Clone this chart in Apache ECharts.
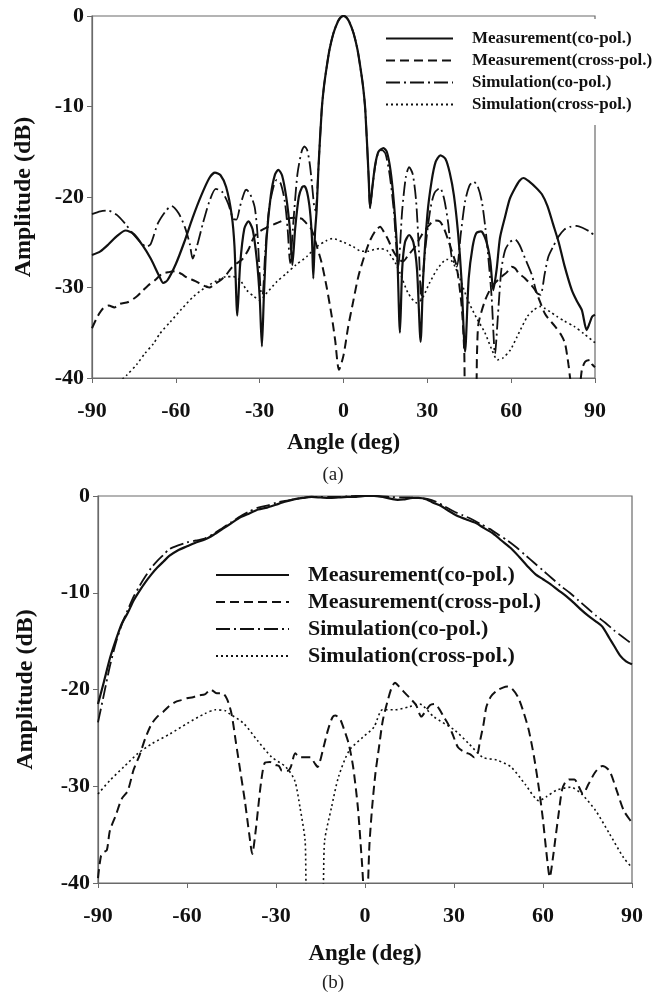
<!DOCTYPE html>
<html>
<head>
<meta charset="utf-8">
<script src="https://cdn.jsdelivr.net/npm/echarts@6/dist/echarts.min.js"></script>
<style>
html,body{margin:0;padding:0;background:#fff;}
#c{width:666px;height:992px;}
</style>
</head>
<body>
<div id="c"></div>
<script>
// ---------- Series names ----------
var seriesNames = ['Measurement(co-pol.)','Measurement(cross-pol.)','Simulation(co-pol.)','Simulation(cross-pol.)'];
var xTicks = [-90,-60,-30,0,30,60,90];
var yTicks = [0,-10,-20,-30,-40];

// ---------- Panel (a) ----------
var aMeasCoX = [-90,-87,-84,-81,-78,-75,-72,-69,-66,-64.5,-63,-60,-57,-54,-51,-48,-46,-44,-42,-40,-39,-38,-37,-35.5,-34,-32.5,-31,-30,-29.2,-28.5,-27.5,-26,-24.5,-23.3,-22,-20.5,-19.2,-18.3,-17.3,-16,-14.8,-14,-13,-12,-11.3,-10.8,-10.2,-9.6,-9,-7.8,-7,-6,-5,-3.6,-2,-1,0,1,2,3.6,5,6,7,7.8,9,9.5,10.3,11.3,12.5,14.3,15.5,16.8,18,19.2,20.2,21,22,23.5,25,26.3,27.6,28.5,30,31.5,33,34.7,36.5,38,39.5,41,42.2,43.5,44.8,46.2,47.5,49.2,51,52.5,53.6,54.8,56,57.8,59.5,61.4,63,64.4,66.5,69,71,73,75,77,79,81.7,83.5,85.3,87,88,89,90];
var aMeasCoY = [-26.4,-26.0,-25.2,-24.3,-23.7,-24.1,-25.3,-26.8,-28.7,-29.5,-29.2,-27.4,-25.0,-22.3,-19.9,-17.9,-17.3,-17.6,-18.9,-22.0,-25.5,-33.1,-27.5,-23.5,-22.7,-23.6,-27,-31,-36.5,-31,-24.5,-19.8,-17.5,-17.0,-17.6,-20,-23.5,-27.5,-23.5,-20,-18.9,-18.8,-19.5,-21.5,-24.5,-29,-24,-21.4,-17,-10.4,-7.8,-5.6,-3.7,-1.9,-0.6,-0.15,0,-0.15,-0.6,-1.9,-3.7,-5.6,-7.8,-10.4,-17.8,-21.2,-19,-16.5,-15,-14.6,-15,-17,-20.5,-26,-35,-28,-25,-24.2,-25,-28,-36,-29,-22,-18.3,-16.1,-15.4,-15.8,-17.3,-19.8,-24,-29,-37.1,-29,-25.5,-24,-23.8,-24.8,-27,-30.3,-28,-24.5,-22.2,-20.2,-19.0,-18.2,-17.9,-18.3,-19,-19.7,-21,-23,-25,-27.5,-30.3,-31.5,-32.5,-34.7,-34,-33.2,-33];

var aMeasCrossX = [-90,-88,-86,-84,-82,-80,-77,-74,-72,-70,-67.5,-65,-62.5,-60,-58,-56,-53,-50,-48,-46,-44,-42,-40,-38,-36,-34,-32,-30,-27,-24,-20,-17,-15,-13,-11.4,-9.5,-7.8,-6,-4.2,-3,-1.6,0,1.7,3.5,5.3,7.5,9.5,11.5,13.1,14.5,16.1,17.5,19.1,20.3,21.4,23,25.6,28,30.4,32.5,34.5,36,37.5,39,40.5,42.3,43.2,43.8,47,47.8,48.3,50.7,53.1,56.6,58.5,60.2,61.5,62.6,65,68.6,72.1,75.7,78,79.3,80.5,81.7,84,85.3,86.5,88.2,89,90];
var aMeasCrossY = [-34.5,-33.2,-32.3,-32.0,-32.2,-31.8,-31.6,-31.0,-30.4,-29.8,-29.2,-28.5,-28.3,-28.2,-28.5,-28.9,-29.3,-29.8,-30.0,-29.6,-29.2,-28.6,-27.8,-27.3,-26.8,-25.8,-24.4,-23.8,-23.3,-22.9,-22.4,-22.3,-22.4,-23.0,-23.6,-25.5,-27.3,-30,-33.2,-35.8,-39.1,-37.5,-34.3,-31.5,-28.8,-26.5,-24.8,-23.7,-23.3,-23.9,-24.8,-25.8,-26.6,-27.0,-27.1,-26.5,-25.5,-24.2,-23.2,-22.6,-22.7,-23.5,-24.8,-26.2,-27.7,-32.1,-37,-43,-43,-37,-34,-31.4,-29.9,-28.8,-28.3,-27.7,-27.9,-28.4,-29.0,-30.3,-32.9,-34.3,-35.3,-36.2,-38.5,-41,-42,-39.1,-38.2,-38,-38.5,-38.8];

var aSimCoX = [-90,-87,-84.3,-81,-78,-75,-72,-70.5,-69,-66.4,-63.5,-61.5,-59,-56.8,-55,-54,-52.5,-50.3,-48,-45.7,-43.5,-41.3,-39.5,-38.3,-37,-35.5,-34.8,-33.5,-31.8,-30.8,-29.6,-29,-28,-26.5,-25,-23.9,-22.5,-21,-20,-19.1,-18,-16.5,-15,-14,-13,-12,-11,-10.5,-10,-9.6,-9,-7.8,-7,-6,-5,-3.6,-2,-1,0,1,2,3.6,5,6,7,7.8,9,9.5,10.5,12,13.7,15,16.5,18,19.6,21,22.3,23.5,24.8,26,27,27.8,28.6,29.2,31,32.5,34.5,36,37.5,38.7,40.5,42,43.5,45,46.5,48,49.5,50.8,51.8,53,54.2,55.5,56.5,57.8,59.5,61.4,63,65,67.4,69.2,70.5,72,73.3,75,76.9,79,81,83.4,85.5,88,90];
var aSimCoY = [-21.9,-21.6,-21.5,-22.0,-23.0,-24.2,-25.2,-25.5,-25.2,-22.9,-21.5,-21.0,-21.8,-23.3,-25.2,-26.8,-25.5,-22.9,-20.5,-19.1,-19.4,-20.7,-22.4,-22.5,-21,-19.5,-19.2,-19.6,-21.1,-24,-30.5,-30.8,-26,-21,-18.8,-18.1,-18.5,-20.5,-23.5,-27.3,-23,-17.5,-15,-14.4,-14.8,-16.5,-19.5,-21,-21.5,-20.5,-17,-10.4,-7.8,-5.6,-3.7,-1.9,-0.6,-0.15,0,-0.15,-0.6,-1.9,-3.7,-5.6,-7.8,-10.4,-17.8,-21.2,-18.5,-15.5,-14.8,-15.2,-17.5,-21.5,-27.7,-21.5,-17.8,-16.7,-17.5,-20.5,-26,-31.4,-28.1,-25.9,-21.5,-19.6,-19.0,-20.2,-23,-26.6,-27.7,-24,-20.5,-18.8,-18.3,-18.8,-20.5,-23.5,-26.6,-31,-37.3,-32,-28,-25.9,-25.0,-24.7,-25.3,-26.8,-28.6,-30.6,-30.8,-28.5,-26.6,-25.5,-24.4,-23.6,-23.3,-23.2,-23.4,-23.8,-24.3];

var aSimCrossX = [-80.5,-77.6,-74,-71.1,-68,-65.7,-62,-58,-53.7,-49,-45,-42,-39.4,-37,-34.6,-32,-30,-28,-24,-20.3,-17,-13.2,-10,-6,-4,-2.4,0,3.5,6.4,9,11,13,15.5,17,18.6,20.5,23.1,26.2,28,30.8,33.5,36.9,38.5,39.9,42,44.5,47.5,50.6,53,55.1,57,59.7,62,65.8,68,70.4,72,74,76.4,79,82.5,86,90];
var aSimCrossY = [-40.5,-39.7,-38.5,-37.3,-36.2,-35.1,-33.8,-32.4,-31.0,-29.9,-29.2,-28.8,-28.8,-29.2,-30.3,-31.0,-31.4,-30.8,-29.4,-28.4,-27.5,-26.6,-25.6,-24.8,-24.6,-24.7,-25.0,-25.5,-26.0,-26.0,-25.8,-25.7,-25.9,-26.5,-27.3,-28.6,-30.6,-31.7,-31.3,-29.5,-28.0,-26.9,-27.0,-27.7,-29.3,-31.4,-33.3,-35,-36.8,-38,-37.8,-36.9,-35.5,-33.2,-32.5,-32.1,-32.3,-32.7,-33.2,-33.7,-34.3,-35.1,-36.1];

// ---------- Panel (b) ----------
var bMeasCoX = [-90,-88,-86,-84,-82,-80,-78,-76,-74,-72,-70,-68,-66,-63,-60,-57,-54,-51,-48,-45,-42,-39,-36,-33,-30,-27,-24,-21,-18,-15,-12,-9,-6,-3,0,3,6,9,11,13,16,18,20.8,23,25.5,28,31.4,34,37.4,40,43.3,46,49.2,52,55.2,57.5,60,62.5,65,68,70.6,73,75.3,78,80,82.4,84,86,88,90];
var bMeasCoY = [-21.5,-19.2,-16.8,-14.9,-13.2,-12.1,-10.8,-9.8,-8.9,-8.1,-7.4,-6.8,-6.2,-5.6,-5.2,-4.8,-4.5,-4.0,-3.4,-2.8,-2.2,-1.8,-1.4,-1.2,-0.9,-0.6,-0.35,-0.2,-0.1,-0.15,-0.2,-0.15,-0.1,-0.1,0,0,-0.1,-0.3,-0.4,-0.35,-0.2,-0.2,-0.35,-0.7,-1.0,-1.5,-2.1,-2.4,-2.8,-3.3,-3.9,-4.6,-5.4,-6.3,-7.4,-8.1,-8.6,-9.1,-9.7,-10.4,-11.1,-11.8,-12.4,-13.0,-13.5,-14.7,-15.5,-16.5,-17.1,-17.4];

var bMeasCrossX = [-90,-89,-88,-87,-86,-84,-82,-80,-78,-76,-74,-72,-70,-68,-66,-64,-62,-60,-58,-56,-54,-52,-50,-48,-46.5,-45,-43.5,-42,-40.5,-39,-38,-37,-36,-35,-33.8,-32,-30.2,-29,-28,-26,-25,-23.5,-22,-20.5,-18.4,-17,-16,-14,-12.5,-11,-10,-8.5,-7.2,-5.5,-4,-2.4,-1,0,0.6,1.5,2.4,3.5,4.7,6,7.7,9,10.1,11.5,13.6,15.5,17.2,19,20.5,22,23.5,25,26.5,27.9,29.5,31.4,33.8,35.5,36.8,38,38.6,40,40.9,42.5,44.5,46.5,48,49.5,51.6,53.5,55.2,57,58.7,60,61.1,62.3,63.3,64.1,65.2,66.4,67.5,68.8,70.6,72,73.5,75.3,77.7,80,82.4,84.8,87.2,89.6,90];
var bMeasCrossY = [-39.5,-37.2,-36.8,-36.6,-34.6,-33.0,-31.3,-30.5,-28.3,-26.8,-25.0,-23.6,-22.8,-22.3,-21.7,-21.3,-21.1,-20.9,-20.8,-20.6,-20.5,-20.0,-20.4,-20.4,-21.0,-22.5,-25.5,-28.5,-31.5,-35,-37,-35,-32.2,-29.5,-27.6,-27.5,-27.8,-27.9,-28.4,-28.4,-28.0,-26.6,-27.0,-27.0,-27.0,-27.6,-28.0,-26,-24.2,-22.9,-22.7,-23,-24,-25.6,-28,-32.2,-38,-42,-42,-36,-32.2,-28.7,-26,-23.2,-21.1,-19.8,-19.3,-19.7,-20.4,-21.0,-21.6,-22.8,-22.2,-21.6,-21.5,-22,-22.8,-23.5,-24.6,-26,-26.5,-26.7,-27,-26.6,-25.6,-23.5,-21.8,-20.7,-20.1,-19.8,-19.7,-19.9,-20.8,-22.4,-24.2,-27,-30.4,-33.5,-36.7,-39.4,-37.5,-35.6,-33,-30.4,-29.6,-29.3,-29.3,-30.0,-30.8,-29.8,-28.5,-27.9,-28.4,-30.4,-32.5,-33.6,-33.7];

var bSimCoX = [-90,-88,-86,-84,-82,-80,-78,-76,-74,-72,-70,-68,-66,-63,-60,-57,-54,-51,-48,-45,-42,-39,-36,-33,-30,-27,-24,-21,-18,-15,-12,-9,-6,-3,0,3,6,9,12,15,18,21,24,27,30,33,36,39,42,45,48,51,54,57,60,63,66,69,72,75,78,81,84,87,90];
var bSimCoY = [-23.4,-20.5,-17.6,-15.2,-13.3,-11.8,-10.4,-9.3,-8.3,-7.4,-6.7,-6.1,-5.5,-5.1,-4.8,-4.6,-4.4,-3.9,-3.3,-2.7,-2.1,-1.6,-1.2,-1.0,-0.7,-0.5,-0.35,-0.2,-0.1,-0.1,-0.1,-0.1,-0.05,0,0,0,-0.05,-0.1,-0.15,-0.15,-0.2,-0.3,-0.6,-1.1,-1.6,-2.0,-2.4,-2.9,-3.4,-4.0,-4.6,-5.3,-6.1,-6.9,-7.7,-8.5,-9.3,-10.0,-10.8,-11.6,-12.4,-13.1,-13.9,-14.6,-15.3];

var bSimCrossX = [-90,-86,-81.3,-76.5,-71.8,-65.8,-59.9,-54,-50.4,-47,-45.7,-40.9,-36.2,-31.4,-26.7,-23.7,-21.9,-20.2,-19.3,-14.8,-13.6,-11.3,-8.9,-5.3,-0.6,3,5.9,10.1,14.8,18.4,23.1,30.2,35,39.7,44.5,49.2,54,58.7,61.1,64.6,69.4,73,77.7,82.4,87.2,90];
var bSimCrossY = [-30.8,-29.4,-28.0,-26.6,-25.6,-24.6,-23.5,-22.5,-22.1,-22.2,-22.5,-23.5,-25.3,-27.0,-28.0,-29.4,-32.2,-35.6,-42,-42,-35.6,-32.2,-29.0,-26.3,-24.9,-23.9,-22.1,-22.1,-21.8,-21.5,-22.8,-24.2,-25.6,-27.0,-27.3,-28.0,-29.8,-31.5,-31.1,-30.4,-30.1,-30.8,-32.5,-34.9,-37.4,-38.4];

function zip(xs, ys){ return xs.map(function(x,i){ return [x, ys[i]]; }); }

var FONT = '"Liberation Serif","Times New Roman",serif';
var INK = '#111';
var AXIS = '#6a6a6a';

var styles = [
  {width:2.2, type:'solid'},
  {width:2.0, type:[9,5]},
  {width:1.8, type:[14,4,2,4]},
  {width:1.6, type:[2,3]}
];

function mkXAxis(gi, labelMargin, nameGap){
  return {
    gridIndex: gi, type:'value', min:-90, max:90, interval:30,
    name:'Angle (deg)', nameLocation:'middle', nameGap:nameGap,
    nameTextStyle:{fontFamily:FONT, fontWeight:'bold', fontSize:23, color:INK},
    axisLine:{show:true, onZero:false, lineStyle:{color:AXIS, width:1.2}},
    axisTick:{show:true, length:5, lineStyle:{color:AXIS}},
    axisLabel:{fontFamily:FONT, fontWeight:'bold', fontSize:22, color:INK, margin:labelMargin},
    splitLine:{show:false}
  };
}
function mkYAxis(gi, nameGap){
  return {
    gridIndex: gi, type:'value', min:-40, max:0, interval:10,
    name:'Amplitude (dB)', nameLocation:'middle', nameGap:nameGap, nameRotate:90,
    nameTextStyle:{fontFamily:FONT, fontWeight:'bold', fontSize:24, color:INK},
    axisLine:{show:true, onZero:false, lineStyle:{color:AXIS, width:1.2}},
    axisTick:{show:true, length:5, lineStyle:{color:AXIS}},
    axisLabel:{fontFamily:FONT, fontWeight:'bold', fontSize:22, color:INK, margin:8},
    splitLine:{show:false}
  };
}

var panelA = [zip(aMeasCoX,aMeasCoY), zip(aMeasCrossX,aMeasCrossY), zip(aSimCoX,aSimCoY), zip(aSimCrossX,aSimCrossY)];
var panelB = [zip(bMeasCoX,bMeasCoY), zip(bMeasCrossX,bMeasCrossY), zip(bSimCoX,bSimCoY), zip(bSimCrossX,bSimCrossY)];

var series = [];
[panelA, panelB].forEach(function(panel, gi){
  panel.forEach(function(data, si){
    series.push({
      name: seriesNames[si], type:'line', xAxisIndex:gi, yAxisIndex:gi,
      data: data, showSymbol:false, symbol:'none', smooth:0.25, clip:true,
      lineStyle:{color:INK, width:styles[si].width, type:styles[si].type},
      itemStyle:{color:INK},
      emphasis:{disabled:true}, animation:false, z: 3 - si*0.1
    });
  });
});

var chart = echarts.init(document.getElementById('c'), null, {renderer:'canvas'});
chart.setOption({
  backgroundColor:'#fff',
  animation:false,
  title:[
    {text:'(a)', left:'center', top:461, textStyle:{fontFamily:FONT, fontWeight:'normal', fontSize:19, color:'#222'}},
    {text:'(b)', left:'center', top:969, textStyle:{fontFamily:FONT, fontWeight:'normal', fontSize:19, color:'#222'}}
  ],
  grid:[
    {left:92, top:16, width:503, height:362, show:true, borderColor:AXIS, borderWidth:1.2, backgroundColor:'transparent'},
    {left:98, top:496, width:534, height:387, show:true, borderColor:AXIS, borderWidth:1.2, backgroundColor:'transparent'}
  ],
  xAxis:[mkXAxis(0, 22, 54), mkXAxis(1, 22, 60)],
  yAxis:[mkYAxis(0, 56), mkYAxis(1, 60)],
  legend:[
    {
      data: seriesNames, orient:'vertical', left:380, top:19,
      padding:[11,12,12,5], backgroundColor:'#fff',
      itemWidth:67, itemHeight:14, itemGap:5, selectedMode:false,
      itemStyle:{opacity:0},
      textStyle:{fontFamily:FONT, fontWeight:'bold', fontSize:17, color:INK, padding:[0,0,0,14]}
    },
    {
      data: seriesNames, orient:'vertical', left:210, top:559,
      padding:[5,5,5,5],
      itemWidth:73, itemHeight:14, itemGap:5, selectedMode:false,
      itemStyle:{opacity:0},
      textStyle:{fontFamily:FONT, fontWeight:'bold', fontSize:22, color:INK, padding:[0,0,0,14]}
    }
  ],
  series: series
});
</script>
</body>
</html>
